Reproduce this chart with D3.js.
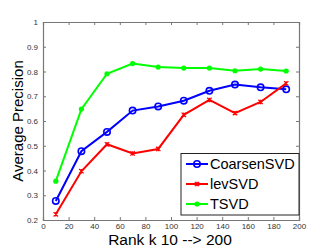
<!DOCTYPE html>
<html><head><meta charset="utf-8">
<script src="https://cdn.jsdelivr.net/npm/d3@7"></script>
<style>body{margin:0;background:#fff}svg{display:block}text{font-family:"Liberation Sans",Arial,sans-serif}</style>
</head><body><svg id="c" width="331" height="249"></svg>
<script>
const ranks = [10,30,50,70,90,110,130,150,170,190];
const coarsenSVD = [0.277,0.478,0.556,0.642,0.659,0.682,0.722,0.747,0.736,0.728];
const levSVD = [0.223,0.397,0.506,0.469,0.487,0.625,0.685,0.632,0.677,0.752];
const tSVD = [0.357,0.648,0.791,0.832,0.818,0.814,0.814,0.803,0.810,0.802];
const seriesNames = ["CoarsenSVD","levSVD","TSVD"];
const xTicks = [0,20,40,60,80,100,120,140,160,180,200];
const yTicks = [0.2,0.3,0.4,0.5,0.6,0.7,0.8,0.9,1];

const svg = d3.select("#c");
const L=43,R=299,T=22,B=220;
const x = d3.scaleLinear().domain([0,200]).range([L,R]);
const y = d3.scaleLinear().domain([0.2,1]).range([B,T]);
const axCol="#777";

const g = svg.append("g");
const xb = g.append("g").attr("transform",`translate(0,${B})`).call(d3.axisBottom(x).tickValues(xTicks).tickSize(-3).tickPadding(3).tickFormat(d3.format("d")));
const xt = g.append("g").attr("transform",`translate(0,${T})`).call(d3.axisTop(x).tickValues(xTicks).tickSize(-3).tickFormat(""));
const yl = g.append("g").attr("transform",`translate(${L},0)`).call(d3.axisLeft(y).tickValues(yTicks).tickSize(-3).tickPadding(5).tickFormat(d=>d===1?"1":d3.format(".1f")(d)));
const yr = g.append("g").attr("transform",`translate(${R},0)`).call(d3.axisRight(y).tickValues(yTicks).tickSize(-3).tickFormat(""));
[xb,xt,yl,yr].forEach(a=>{a.select(".domain").attr("stroke",axCol).attr("stroke-width",1.2);a.selectAll(".tick line").attr("stroke",axCol);a.selectAll("text").attr("fill","#333").style("font-size","8px");});

const line = d3.line().x((d,i)=>x(ranks[i])).y(d=>y(d));
const data = [
 {name:seriesNames[0],vals:coarsenSVD,color:"#0000ff",marker:"circle"},
 {name:seriesNames[1],vals:levSVD,color:"#ff0000",marker:"x"},
 {name:seriesNames[2],vals:tSVD,color:"#00ff00",marker:"dot"}
];
function drawMarker(sel,m,c,cx,cy){
  if(m==="circle") sel.append("circle").attr("cx",cx).attr("cy",cy).attr("r",3.2).attr("fill","none").attr("stroke",c).attr("stroke-width",1.6);
  else if(m==="dot") sel.append("circle").attr("cx",cx).attr("cy",cy).attr("r",2.6).attr("fill",c);
  else { const s=2.2; sel.append("path").attr("d",`M${cx-s},${cy-s}L${cx+s},${cy+s}M${cx-s},${cy+s}L${cx+s},${cy-s}M${cx},${cy-s}L${cx},${cy+s}`).attr("stroke",c).attr("stroke-width",1.2);}
}
data.forEach(s=>{
  g.append("path").attr("d",line(s.vals)).attr("fill","none").attr("stroke",s.color).attr("stroke-width",2);
  s.vals.forEach((v,i)=>drawMarker(g,s.marker,s.color,x(ranks[i]),y(v)));
});
const lg = g.append("g");
lg.append("rect").attr("x",181).attr("y",153.5).attr("width",118).attr("height",61.5).attr("fill","#fff").attr("stroke","#222").attr("stroke-width",1);
data.forEach((s,i)=>{
  const yy=164+i*20;
  lg.append("line").attr("x1",186).attr("x2",208).attr("y1",yy).attr("y2",yy).attr("stroke",s.color).attr("stroke-width",2);
  drawMarker(lg,s.marker,s.color,197,yy);
  lg.append("text").attr("x",210).attr("y",yy+5).text(s.name).style("font-size","14.5px").attr("fill","#000");
});
svg.append("text").attr("x",170).attr("y",245).attr("text-anchor","middle").style("font-size","15.5px").text("Rank k 10 --> 200");
svg.append("text").attr("transform","translate(23,121) rotate(-90)").attr("text-anchor","middle").style("font-size","15px").text("Average Precision");
</script></body></html>
